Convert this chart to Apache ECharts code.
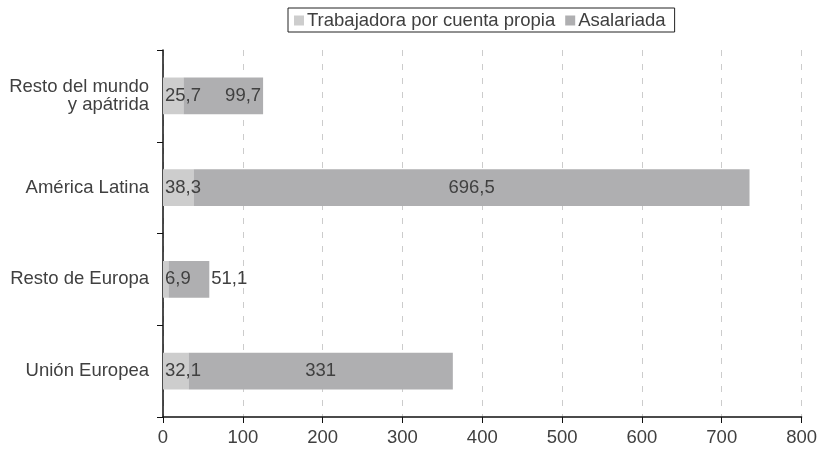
<!DOCTYPE html>
<html><head><meta charset="utf-8">
<script src="https://cdn.jsdelivr.net/npm/echarts@6/dist/echarts.min.js"></script>
<style>html,body{margin:0;padding:0;background:#fff}#c{width:820px;height:455px}</style>
</head><body><div id="c"></div>
<script>
const categories = ['Unión Europea', 'Resto de Europa', 'América Latina', 'Resto del mundo\ny apátrida'];
const cuentaPropia = [32.1, 6.9, 38.3, 25.7];
const asalariada = [331, 51.1, 696.5, 99.7];
const seriesNames = ['Trabajadora por cuenta propia', 'Asalariada'];
const xTicks = {min: 0, max: 800, interval: 100};

const fmt = v => String(v).replace('.', ',');
const FONT = 'Liberation Sans';
const TXT = '#404040';
const FS = 18.5;
const chart = echarts.init(document.getElementById('c'));
const asalLabelPos = ['inside', 'right', 'inside', 'insideRight'];
chart.setOption({
  animation: false,
  textStyle: {fontFamily: FONT},
  grid: {left: 163, right: 18, top: 50, bottom: 38},
  legend: {
    top: 8, left: 288,
    data: seriesNames,
    icon: 'rect', itemWidth: 10, itemHeight: 10, itemGap: 10,
    borderColor: '#222', borderWidth: 1, padding: [3, 9, 2, 6],
    textStyle: {fontSize: FS, color: TXT, fontFamily: FONT, padding: [0, 0, 0, -2]}
  },
  xAxis: {
    type: 'value', min: xTicks.min, max: xTicks.max, interval: xTicks.interval,
    axisLine: {show: true, lineStyle: {color: '#111', width: 1.5}},
    axisTick: {show: true, length: 6, lineStyle: {color: '#111'}},
    axisLabel: {fontSize: FS, color: TXT, margin: 11},
    splitLine: {show: true, lineStyle: {color: '#ccc', type: [6, 8], width: 1}}
  },
  yAxis: {
    type: 'category', data: categories,
    axisLine: {show: true, lineStyle: {color: '#111', width: 1.5}},
    axisTick: {show: true, length: 6, inside: false, lineStyle: {color: '#111'}},
    axisLabel: {fontSize: FS, color: TXT, margin: 14, lineHeight: 18, align: 'right'},
    splitLine: {show: false}
  },
  series: [
    {
      name: seriesNames[0], type: 'bar', stack: 't', barWidth: '40%',
      itemStyle: {color: '#cdcdcd'},
      data: cuentaPropia,
      label: {show: true, position: 'insideLeft', distance: 2, fontSize: FS, color: TXT, formatter: p => fmt(p.value)}
    },
    {
      name: seriesNames[1], type: 'bar', stack: 't', barWidth: '40%',
      itemStyle: {color: '#afafb1'},
      data: asalariada.map((v, i) => ({value: v, label: {position: asalLabelPos[i], distance: 2}})),
      label: {show: true, fontSize: FS, color: TXT, formatter: p => fmt(p.value)}
    }
  ]
});
</script></body></html>
